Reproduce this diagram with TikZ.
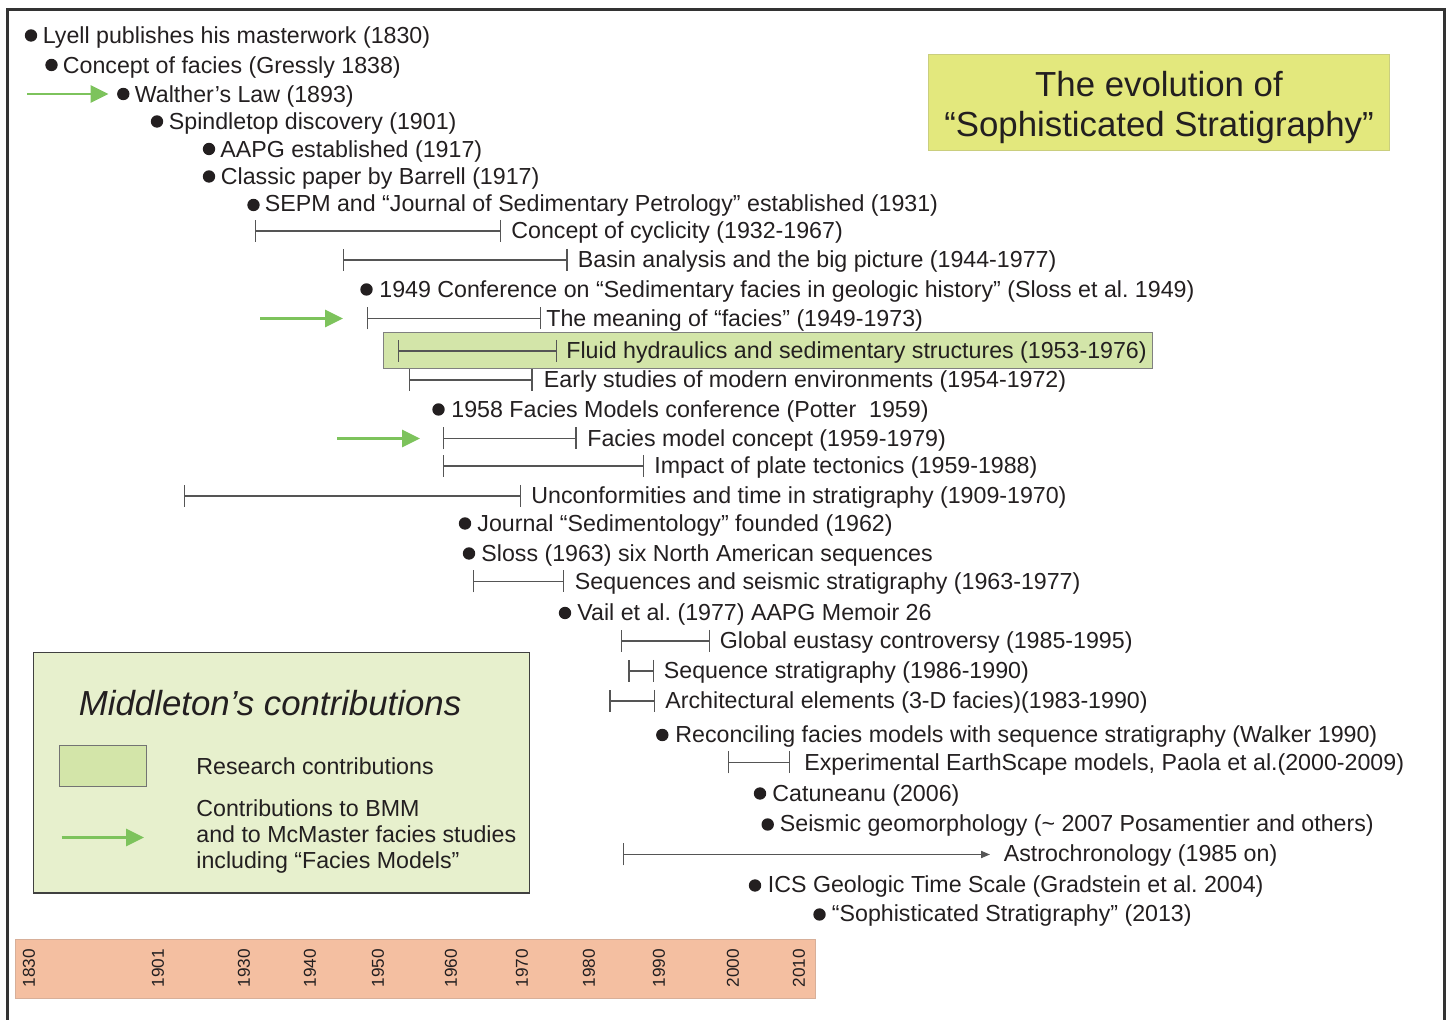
\documentclass[tikz,border=0pt]{standalone}
\usepackage{fontspec}
\setmainfont{Liberation Sans}
\usetikzlibrary{arrows.meta}
\definecolor{ink}{HTML}{231F20}
\definecolor{barline}{HTML}{555555}
\definecolor{mmgreen}{HTML}{7DC35C}
\definecolor{fluidfill}{HTML}{D3E5A9}
\definecolor{legendfill}{HTML}{E7F0CD}
\definecolor{titlefill}{HTML}{E3E87D}
\definecolor{yearfill}{HTML}{F4BFA1}
\frenchspacing
\begin{document}
\begin{tikzpicture}[x=0.5pt, y=-0.5pt,
  item/.style={anchor=west, inner sep=0pt, text height=8.3pt, text depth=0pt, text=ink, font=\fontsize{11.6}{14}\selectfont},
  dot/.style={circle, fill=ink, inner sep=0pt, minimum size=6.2pt},
  span/.style={draw=barline, line width=0.65pt, arrows={Bar[width=11pt]-Bar[width=11pt]}},
  mmarrow/.style={draw=mmgreen, line width=1.4pt, -{Triangle[length=9pt,width=8.5pt]}},
  yearlbl/.style={rotate=90, inner sep=0pt, text=ink, font=\fontsize{8.6}{9}\selectfont}]

    % Cornice aperta in basso
    \useasboundingbox (0,0) rectangle (1447,1020);
    \draw[line width=1.1pt, black!80] (7.5,1020) -- (7.5,9.5) -- (1444.5,9.5) -- (1444.5,1020);

    % Titolo
    \node[draw=titlefill!75!gray, fill=titlefill, minimum width=230.5pt, minimum height=48pt, inner sep=0pt] (titlebox) at (1158.5,102) {};
    \node[align=center, text=ink, font=\fontsize{17.4}{20}\selectfont] (title) at (1159,108) {The evolution of\\“Sophisticated Stratigraphy”};

    % Lyell, Gressly, Walther
    \node[dot] (lyell-d) at (31,35.5) {};
    \node[item] (lyell) at (42.5,35.5) {Lyell publishes his masterwork (1830)};
    \node[dot] (gressly-d) at (51.5,65) {};
    \node[item] (gressly) at (62.5,65) {Concept of facies (Gressly 1838)};
    \coordinate (walther-in) at (27,94);
    \coordinate (walther-at) at (108.5,94);
    \draw[mmarrow] (walther-in) -- (walther-at);
    \node[dot] (walther-d) at (123.3,94) {};
    \node[item] (walther) at (134.5,94) {Walther’s Law (1893)};

    % Spindletop, AAPG, Barrell, SEPM
    \node[dot] (spindle-d) at (157,121.5) {};
    \node[item] (spindle) at (168.5,121.5) {Spindletop discovery (1901)};
    \node[dot] (aapg-d) at (209,149) {};
    \node[item] (aapg) at (220,149) {AAPG established (1917)};
    \node[dot] (barrell-d) at (209,176.5) {};
    \node[item] (barrell) at (220.5,176) {Classic paper by Barrell (1917)};
    \node[dot] (sepm-d) at (253.5,205) {};
    \node[item] (sepm) at (264.5,203.5) {SEPM and “Journal of Sedimentary Petrology” established (1931)};

    % Ciclicita e analisi di bacino
    \coordinate (cyclic-a) at (255,231);
    \coordinate (cyclic-b) at (501,231);
    \draw[span] (cyclic-a) -- (cyclic-b);
    \node[item] (cyclic) at (511,230.5) {Concept of cyclicity (1932-1967)};
    \coordinate (basin-a) at (342.5,260);
    \coordinate (basin-b) at (567.5,260);
    \draw[span] (basin-a) -- (basin-b);
    \node[item] (basin) at (577.5,259.5) {Basin analysis and the big picture (1944-1977)};

    % Conferenza 1949 e facies
    \node[dot] (conf49-d) at (366.5,289.5) {};
    \node[item] (conf49) at (379,289) {1949 Conference on “Sedimentary facies in geologic history” (Sloss et al. 1949)};
    \coordinate (meaning-in) at (260,318.5);
    \coordinate (meaning-at) at (343,318.5);
    \draw[mmarrow] (meaning-in) -- (meaning-at);
    \coordinate (meaning-a) at (366.7,318.5);
    \coordinate (meaning-b) at (541,318.5);
    \draw[span] (meaning-a) -- (meaning-b);
    \node[item] (meaning) at (546,318) {The meaning of “facies” (1949-1973)};

    % Idraulica dei fluidi (contributo di ricerca)
    \node[draw=black!50, fill=fluidfill, line width=0.5pt, minimum width=384.2pt, minimum height=17.8pt, inner sep=0pt] (fluidbox) at (767.8,350.5) {};
    \coordinate (fluid-a) at (398,351);
    \coordinate (fluid-b) at (557,351);
    \draw[span] (fluid-a) -- (fluid-b);
    \node[item] (fluid) at (566,350) {Fluid hydraulics and sedimentary structures (1953-1976)};
    \coordinate (early-a) at (408.7,380);
    \coordinate (early-b) at (532.7,380);
    \draw[span] (early-a) -- (early-b);
    \node[item] (early) at (543.5,379.5) {Early studies of modern environments (1954-1972)};

    % Conferenza 1958 e modelli di facies
    \node[dot] (conf58-d) at (438.5,409.5) {};
    \node[item] (conf58) at (451,409.5) {1958 Facies Models conference (Potter\ \ 1959)};
    \coordinate (fmodel-in) at (337,438.5);
    \coordinate (fmodel-at) at (420,438.5);
    \draw[mmarrow] (fmodel-in) -- (fmodel-at);
    \coordinate (fmodel-a) at (442.7,438.5);
    \coordinate (fmodel-b) at (576.7,438.5);
    \draw[span] (fmodel-a) -- (fmodel-b);
    \node[item] (fmodel) at (587,438) {Facies model concept (1959-1979)};
    \coordinate (plates-a) at (442.7,466);
    \coordinate (plates-b) at (644.3,466);
    \draw[span] (plates-a) -- (plates-b);
    \node[item] (plates) at (654,465.5) {Impact of plate tectonics (1959-1988)};
    \coordinate (unconf-a) at (184,496);
    \coordinate (unconf-b) at (521,496);
    \draw[span] (unconf-a) -- (unconf-b);
    \node[item] (unconf) at (531,495) {Unconformities and time in stratigraphy (1909-1970)};

    % Sedimentology, Sloss, stratigrafia sismica, Vail
    \node[dot] (sedjour-d) at (465,523.5) {};
    \node[item] (sedjour) at (477,523) {Journal “Sedimentology” founded (1962)};
    \node[dot] (sloss-d) at (469,553.5) {};
    \node[item] (sloss) at (481,553) {Sloss (1963) six North American sequences};
    \coordinate (seismic-a) at (472.5,581.5);
    \coordinate (seismic-b) at (564,581.5);
    \draw[span] (seismic-a) -- (seismic-b);
    \node[item] (seismic) at (574.5,581) {Sequences and seismic stratigraphy (1963-1977)};
    \node[dot] (vail-d) at (565,613) {};
    \node[item] (vail) at (577,612) {Vail et al. (1977) AAPG Memoir 26};

    % Eustatismo, stratigrafia sequenziale, elementi architetturali
    \coordinate (eustasy-a) at (620.7,641);
    \coordinate (eustasy-b) at (710,641);
    \draw[span] (eustasy-a) -- (eustasy-b);
    \node[item] (eustasy) at (719.5,640.5) {Global eustasy controversy (1985-1995)};
    \coordinate (seqstrat-a) at (628.3,671);
    \coordinate (seqstrat-b) at (654,671);
    \draw[span] (seqstrat-a) -- (seqstrat-b);
    \node[item] (seqstrat) at (663.5,670.5) {Sequence stratigraphy (1986-1990)};
    \coordinate (archel-a) at (609.3,701);
    \coordinate (archel-b) at (655.3,701);
    \draw[span] (archel-a) -- (archel-b);
    \node[item] (archel) at (665,700.5) {Architectural elements (3-D facies)(1983-1990)};

    % Walker, EarthScape, Catuneanu, geomorfologia sismica
    \node[dot] (walker-d) at (662.3,735) {};
    \node[item] (walker) at (675,734) {Reconciling facies models with sequence stratigraphy (Walker 1990)};
    \coordinate (earthscape-a) at (727.7,762.5);
    \coordinate (earthscape-b) at (790,762.5);
    \draw[span] (earthscape-a) -- (earthscape-b);
    \node[item] (earthscape) at (804,762) {Experimental EarthScape models, Paola et al.(2000-2009)};
    \node[dot] (catun-d) at (760,793.5) {};
    \node[item] (catun) at (772,793) {Catuneanu (2006)};
    \node[dot] (geomorph-d) at (767.7,824.5) {};
    \node[item] (geomorph) at (779.5,823.5) {Seismic geomorphology (\textasciitilde\ 2007 Posamentier and others)};

    % Astrocronologia, ICS, Sophisticated Stratigraphy
    \coordinate (astro-a) at (622.7,854.5);
    \coordinate (astro-b) at (990,854.5);
    \draw[span, arrows={Bar[width=11pt]-Triangle[length=4.5pt,width=3.6pt]}] (astro-a) -- (astro-b);
    \node[item] (astro) at (1003.5,853.5) {Astrochronology (1985 on)};
    \node[dot] (ics-d) at (755,885.5) {};
    \node[item] (ics) at (767.5,884.5) {ICS Geologic Time Scale (Gradstein et al. 2004)};
    \node[dot] (sophis-d) at (819.5,914.5) {};
    \node[item] (sophis) at (831.5,913.5) {“Sophisticated Stratigraphy” (2013)};

    % Legenda
    \node[draw=black!75, fill=legendfill, line width=0.6pt, minimum width=247.9pt, minimum height=120.3pt, inner sep=0pt] (legend) at (281.2,772.7) {};
    \node[item, font=\fontsize{17.4}{20}\selectfont\itshape, text height=12.4pt] (legend-title) at (78.5,703) {Middleton’s contributions};
    \node[draw=black!55, fill=fluidfill, line width=0.5pt, minimum width=43.5pt, minimum height=20.8pt, inner sep=0pt] (swatch) at (103,766) {};
    \node[item] (swatch-txt) at (196,766) {Research contributions};
    \coordinate (key-in) at (61.7,837.5);
    \coordinate (key-at) at (144,837.5);
    \draw[mmarrow] (key-in) -- (key-at);
    \node[anchor=west, inner sep=0pt, align=left, text=ink, font=\fontsize{11.6}{13}\selectfont] (key-txt) at (196,837) {Contributions to BMM\\and to McMaster facies studies\\including “Facies Models”};

    % Scala dei tempi
    \node[draw=yearfill!75!gray, fill=yearfill, line width=0.5pt, minimum width=400pt, minimum height=29.5pt, inner sep=0pt] (years) at (415,969.5) {};
    \foreach \yr/\xx in {1830/29, 1901/158, 1930/244, 1940/310, 1950/378, 1960/451, 1970/522, 1980/589, 1990/659, 2000/733, 2010/799}
        \node[yearlbl] (yr\yr) at (\xx,968) {\yr};

\end{tikzpicture}
\end{document}
